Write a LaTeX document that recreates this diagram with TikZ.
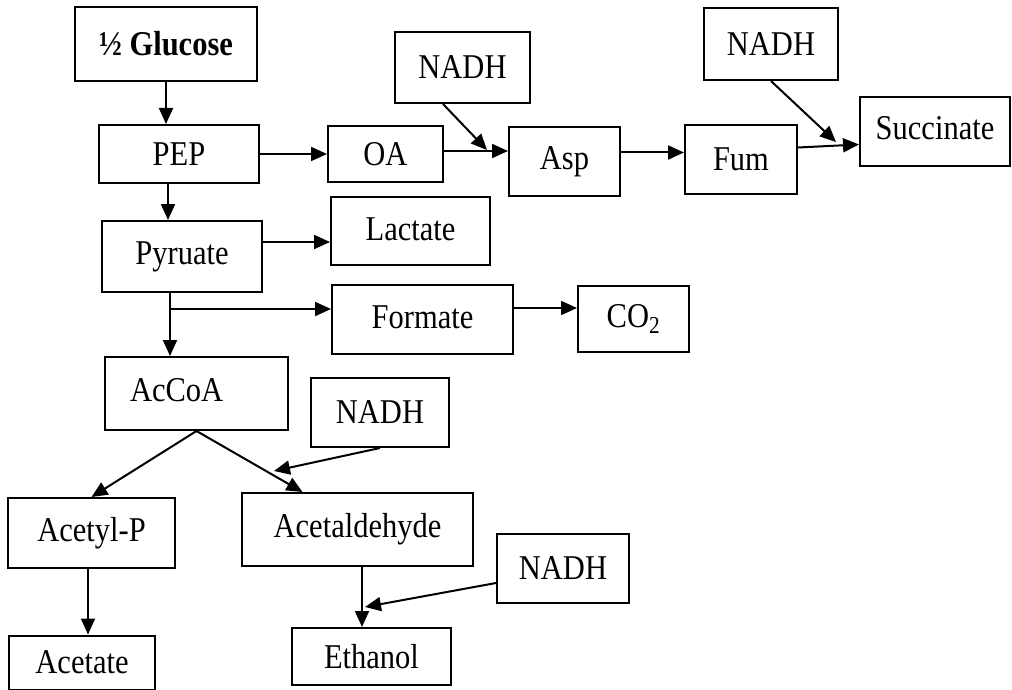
\documentclass[tikz,border=0pt]{standalone}
\usepackage{fontspec}
\setmainfont{Liberation Serif}
\usetikzlibrary{arrows.meta}
\newcommand\stretchtxt[1]{\scalebox{1}[1.14]{#1}}
\begin{document}
\begin{tikzpicture}[x=1pt,y=-1pt,
  box/.style={draw, line width=2pt, rectangle, inner sep=0pt, font=\fontsize{30.5}{36}\selectfont},
  arr/.style={line width=2pt, -{Triangle[length=16pt,width=14pt]}}]
\useasboundingbox (0,0) rectangle (1012,690);
% nodes
\node[box, minimum width=182pt, minimum height=74pt] (gluc) at (166,44) {\stretchtxt{\bfseries ½ Glucose}};
\node[box, minimum width=160pt, minimum height=58pt] (pep) at (179,154) {\stretchtxt{PEP}};
\node[box, minimum width=115pt, minimum height=56pt] (oa) at (385.5,154) {\stretchtxt{OA}};
\node[box, minimum width=135pt, minimum height=71pt] (nadhA) at (462.5,67.5) {\stretchtxt{NADH}};
\node[box, minimum width=111pt, minimum height=69pt] (asp) at (564.5,161.5) {\stretchtxt{Asp}};
\node[box, minimum width=112pt, minimum height=69pt] (fum) at (741,159.5) {\stretchtxt{Fum}};
\node[box, minimum width=134pt, minimum height=72pt] (nadhB) at (771,44) {\stretchtxt{NADH}};
\node[box, minimum width=150pt, minimum height=69pt] (succ) at (935,131.5) {\raisebox{7pt}{\stretchtxt{Succinate}}};
\node[box, minimum width=160pt, minimum height=71pt] (pyr) at (182,256.5) {\raisebox{4pt}{\stretchtxt{Pyruate}}};
\node[box, minimum width=159pt, minimum height=68pt] (lac) at (410.5,231) {\raisebox{4pt}{\stretchtxt{Lactate}}};
\node[box, minimum width=181pt, minimum height=69pt] (form) at (422.5,319.5) {\raisebox{5pt}{\stretchtxt{Formate}}};
\node[box, minimum width=111pt, minimum height=66pt] (co2) at (633.5,319) {\stretchtxt{CO\textsubscript{2}}};
\node[box, minimum width=183pt, minimum height=73pt] (accoa) at (196.5,393.5) {\raisebox{8pt}{\makebox[133pt][l]{\stretchtxt{AcCoA}}}};
\node[box, minimum width=138pt, minimum height=69pt] (nadhC) at (380,412.5) {\stretchtxt{NADH}};
\node[box, minimum width=167pt, minimum height=70pt] (acp) at (91.5,533) {\raisebox{3pt}{\stretchtxt{Acetyl-P}}};
\node[box, minimum width=231pt, minimum height=73pt] (acald) at (357.5,529.5) {\raisebox{5pt}{\stretchtxt{Acetaldehyde}}};
\node[box, minimum width=132pt, minimum height=69pt] (nadhD) at (563,568.5) {\stretchtxt{NADH}};
\node[box, minimum width=146pt, minimum height=54pt] (acet) at (82,662.5) {\raisebox{-2pt}{\stretchtxt{Acetate}}};
\node[box, minimum width=159pt, minimum height=57pt] (eth) at (371.5,656.5) {\stretchtxt{Ethanol}};
% junction coordinates
\coordinate (j1) at (487,150);
\coordinate (j2) at (836,142);
\coordinate (j3) at (274,471);
\coordinate (j4) at (365,607);
% connectors
\draw[arr] (gluc.south) -- (gluc.south |- pep.north);
\draw[arr] (pep.east) -- (oa.west);
\draw[arr] ([yshift=3pt]oa.east) coordinate (t0) -- (t0 -| asp.west);
\draw[arr] ([xshift=-19.5pt]nadhA.south) -- (j1);
\draw[arr] ([yshift=9pt]asp.east) coordinate (t1) -- (t1 -| fum.west);
\draw[arr] ([yshift=12pt]fum.east) -- ([yshift=-13pt]succ.west);
\draw[arr] (nadhB.south) -- (j2);
\draw[arr] ([xshift=-11pt]pep.south) coordinate (t2) -- (t2 |- pyr.north);
\draw[arr] ([yshift=14.5pt]pyr.east) coordinate (t3) -- (t3 -| lac.west);
\draw[arr] ([xshift=-12pt]pyr.south) coordinate (t4) -- (t4 |- accoa.north);
\coordinate (br) at (170,309);
\draw[arr] (br) -- (br -| form.west);
\draw[arr] ([yshift=11.5pt]form.east) coordinate (t5) -- (t5 -| co2.west);
\draw[arr] (accoa.south) -- (acp.north);
\draw[arr] (accoa.south) -- ([xshift=-55pt]acald.north);
\draw[arr] (nadhC.south) -- (j3);
\draw[arr] ([xshift=-3.5pt]acp.south) coordinate (t6) -- (t6 |- acet.north);
\draw[arr] ([xshift=4.5pt]acald.south) coordinate (t7) -- (t7 |- eth.north);
\draw[arr] ([yshift=-14.5pt]nadhD.west) -- (j4);
\end{tikzpicture}
\end{document}
